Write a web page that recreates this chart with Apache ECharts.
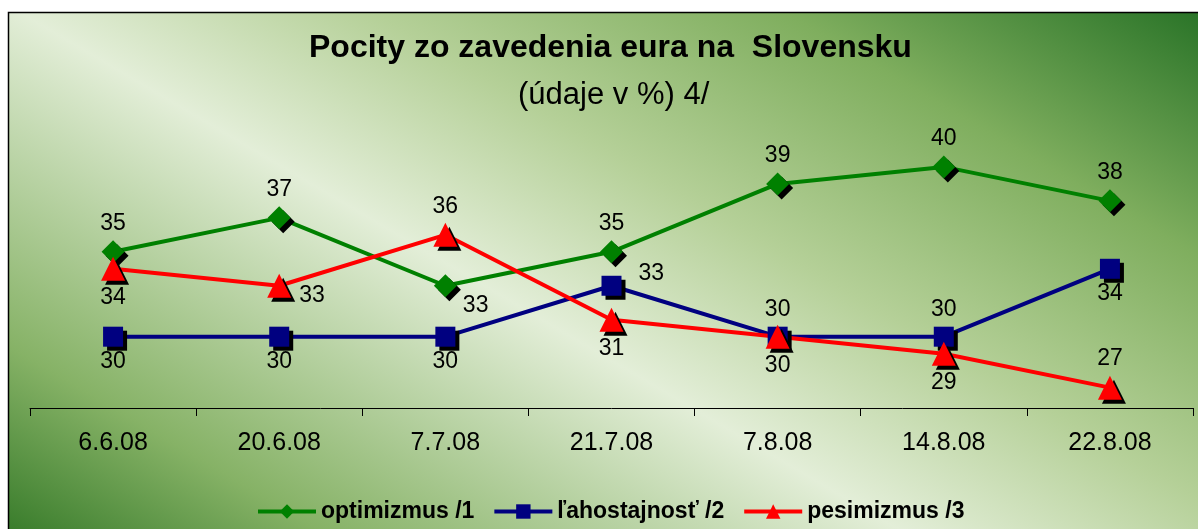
<!DOCTYPE html>
<html>
<head>
<meta charset="utf-8">
<script src="https://cdn.jsdelivr.net/npm/echarts@6/dist/echarts.min.js"></script>
<style>
  html, body { margin: 0; padding: 0; background: #fff; }
  #chart { width: 1198px; height: 529px; }
</style>
</head>
<body>
<div id="chart"></div>
<script>
// survey dates
const dates = ['6.6.08', '20.6.08', '7.7.08', '21.7.08', '7.8.08', '14.8.08', '22.8.08'];
// values in %
const optimizmus = [35, 37, 33, 35, 39, 40, 38];
const lahostajnost = [30, 30, 30, 33, 30, 30, 34];
const pesimizmus = [34, 33, 36, 31, 30, 29, 27];

const names = ['optimizmus /1', 'ľahostajnosť /2', 'pesimizmus /3'];

// where each value label sits
const optPos = ['top', 'top', 'right', 'top', 'top', 'top', 'top'];
const lahPos = ['bottom', 'bottom', 'bottom', 'right', 'top', 'top', 'bottom'];
const pesPos = ['bottom', 'right', 'top', 'bottom', 'bottom', 'bottom', 'top'];

const font = "'Liberation Sans', Arial, sans-serif";

function withLabels(values, pos, dist) {
  return values.map((v, i) => {
    let lab = { position: pos[i], distance: dist };
    if (pos[i] === 'right') lab = { position: 'right', distance: 2, offset: [0, 12] };
    return { value: v, label: lab };
  });
}

const optData = withLabels(optimizmus, optPos, 5);
optData[2].label = { position: 'right', distance: 4, offset: [2, 20] };
const lahData = withLabels(lahostajnost, lahPos, 3);
lahData[3].label = { position: 'right', distance: 17, offset: [0, -12] };
lahData[4].label = { position: 'top', distance: 6 };
lahData[5].label = { position: 'top', distance: 6 };
const pesData = withLabels(pesimizmus, pesPos, 5);
pesData[1].label = { position: 'right', distance: 8, offset: [0, 10] };

const shadow = {
  shadowColor: '#000',
  shadowBlur: 0,
  shadowOffsetX: 4,
  shadowOffsetY: 4
};

const labelStyle = {
  show: true,
  color: '#000',
  fontSize: 23,
  fontFamily: font
};

const chart = echarts.init(document.getElementById('chart'));

chart.setOption({
  animation: false,
  backgroundColor: '#fff',
  graphic: [{
    type: 'rect',
    z: -10,
    silent: true,
    shape: { x: 8.5, y: 12.5, width: 1200, height: 530 },
    style: {
      stroke: '#000',
      lineWidth: 1.5,
      fill: {
        type: 'linear',
        global: true,
        x: 221, y: 654, x2: 753, y2: -250,
        colorStops: [
          { offset: 0, color: '#3a7d2c' },
          { offset: 0.15, color: '#86b266' },
          { offset: 0.43, color: '#e3eed8' },
          { offset: 0.6, color: '#b5d098' },
          { offset: 0.8, color: '#7fae5e' },
          { offset: 1, color: '#2a7428' }
        ]
      }
    }
  }],
  title: [{
    text: 'Pocity zo zavedenia eura na  Slovensku',
    left: 309,
    top: 32,
    padding: 0,
    textStyle: { fontFamily: font, fontSize: 32, fontWeight: 'bold', color: '#000' }
  }, {
    text: '(údaje v %) 4/',
    left: 518,
    top: 80,
    padding: 0,
    textStyle: { fontFamily: font, fontSize: 31, fontWeight: 'normal', color: '#000' }
  }],
  legend: {
    bottom: 6,
    left: 256,
    padding: 0,
    itemWidth: 58,
    itemHeight: 18,
    itemGap: 18,
    data: names.map(n => ({ name: n, lineStyle: { width: 4 } })),
    textStyle: { fontFamily: font, fontSize: 23, fontWeight: 'bold', color: '#000' }
  },
  grid: { left: 30, right: 5, top: 99, bottom: 121 },
  xAxis: {
    type: 'category',
    data: dates,
    axisLine: { lineStyle: { color: '#000', width: 1 } },
    axisTick: { show: true, length: 8, lineStyle: { color: '#000' } },
    axisLabel: { color: '#000', fontSize: 25, fontFamily: font, margin: 23 },
    splitLine: { show: false }
  },
  yAxis: {
    type: 'value',
    min: 25.8,
    max: 44,
    show: false,
    splitLine: { show: false }
  },
  series: [{
    name: names[0],
    type: 'line',
    data: optData,
    symbol: 'diamond',
    symbolSize: 23,
    color: '#008000',
    lineStyle: { width: 4, color: '#008000' },
    itemStyle: Object.assign({ color: '#008000' }, shadow),
    label: labelStyle
  }, {
    name: names[1],
    type: 'line',
    data: lahData,
    symbol: 'rect',
    symbolSize: 20,
    color: '#000080',
    lineStyle: { width: 4, color: '#000080' },
    itemStyle: Object.assign({ color: '#000080' }, shadow),
    label: labelStyle
  }, {
    name: names[2],
    type: 'line',
    data: pesData,
    symbol: 'triangle',
    symbolSize: 24,
    color: '#ff0000',
    lineStyle: { width: 4, color: '#ff0000' },
    itemStyle: Object.assign({ color: '#ff0000' }, shadow),
    label: labelStyle
  }]
});
</script>
</body>
</html>
